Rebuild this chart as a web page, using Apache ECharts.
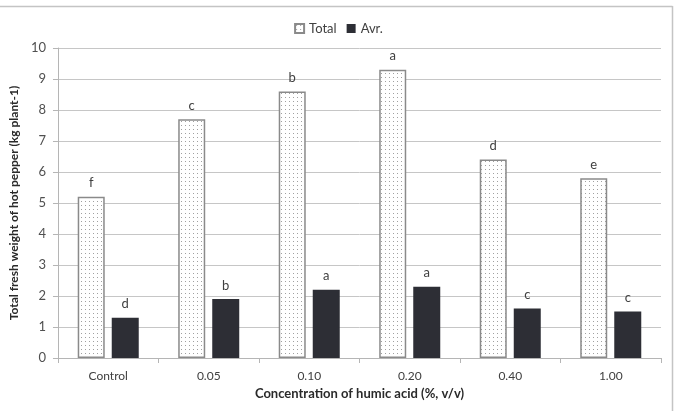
<!DOCTYPE html>
<html>
<head>
<meta charset="utf-8">
<script src="https://cdn.jsdelivr.net/npm/echarts@6/dist/echarts.min.js"></script>
<style>html,body{margin:0;padding:0;background:#fff;}#c{width:677px;height:411px;}</style>
</head>
<body>
<div id="c"></div>
<script>
var categories = ['Control', '0.05', '0.10', '0.20', '0.40', '1.00'];
var totalValues = [5.2, 7.7, 8.6, 9.3, 6.4, 5.8];
var avrValues = [1.3, 1.9, 2.2, 2.3, 1.6, 1.5];
var totalLetters = ['f', 'c', 'b', 'a', 'd', 'e'];
var avrLetters = ['d', 'b', 'a', 'a', 'c', 'c'];
var seriesNames = ['Total', 'Avr.'];

var cv = document.createElement('canvas');
cv.width = 8; cv.height = 8;
var cx = cv.getContext('2d');
cx.fillStyle = '#ffffff'; cx.fillRect(0, 0, 8, 8);
cx.fillStyle = '#a0a0a0';
cx.fillRect(1, 1, 1, 1);
cx.fillRect(5, 5, 1, 1);
cx.fillRect(5, 1, 1, 1);
cx.fillRect(1, 5, 1, 1);

var font = 'Lato, "Open Sans", sans-serif';
var chart = echarts.init(document.getElementById('c'));
chart.setOption({
  animation: false,
  textStyle: { fontFamily: font },
  legend: {
    top: 17, left: 'center', itemWidth: 9, itemHeight: 9, itemGap: 10,
    icon: 'rect',
    textStyle: { fontSize: 13, color: '#404040', fontFamily: font },
    data: seriesNames
  },
  grid: { left: 57, right: 16, top: 48, bottom: 53 },
  xAxis: {
    type: 'category', data: categories,
    name: 'Concentration of humic acid (%, v/v)', nameLocation: 'middle', nameGap: 28,
    nameTextStyle: { fontWeight: 'bold', fontSize: 13, color: '#2a2a2a', fontFamily: font },
    axisLine: { lineStyle: { color: '#b5b5b5' } },
    axisTick: { show: true, length: 5, lineStyle: { color: '#b5b5b5' } },
    axisLabel: { fontSize: 12, color: '#404040', margin: 12 }
  },
  yAxis: {
    type: 'value', min: 0, max: 10, interval: 1,
    name: 'Total fresh weight of hot pepper (kg plant-1)', nameLocation: 'middle', nameGap: 33,
    nameTextStyle: { fontWeight: 'bold', fontSize: 12, color: '#2a2a2a', fontFamily: font },
    axisLine: { show: true, lineStyle: { color: '#b5b5b5' } },
    axisTick: { show: true, length: 5, lineStyle: { color: '#b5b5b5' } },
    axisLabel: { fontSize: 13, color: '#505050', margin: 12 },
    splitLine: { lineStyle: { color: '#c6c6c6' } }
  },
  series: [
    {
      name: seriesNames[0], type: 'bar', data: totalValues,
      barWidth: 27, barGap: '26%',
      itemStyle: { color: { image: cv, repeat: 'repeat' }, borderColor: '#8a8a8a', borderWidth: 1.5 },
      label: { show: true, position: 'top', distance: 7, fontSize: 13, color: '#404040',
        formatter: function (p) { return totalLetters[p.dataIndex]; } }
    },
    {
      name: seriesNames[1], type: 'bar', data: avrValues,
      barWidth: 27,
      itemStyle: { color: '#2d2e35' },
      label: { show: true, position: 'top', distance: 7, fontSize: 13, color: '#404040',
        formatter: function (p) { return avrLetters[p.dataIndex]; } }
    }
  ],
  graphic: [
    { type: 'line', shape: { x1: 0, y1: 6.5, x2: 672.5, y2: 6.5 }, style: { stroke: '#c4c4c4', lineWidth: 1.5 } },
    { type: 'line', shape: { x1: 672.5, y1: 6, x2: 672.5, y2: 411 }, style: { stroke: '#c4c4c4', lineWidth: 1.5 } }
  ]
});
</script>
</body>
</html>
